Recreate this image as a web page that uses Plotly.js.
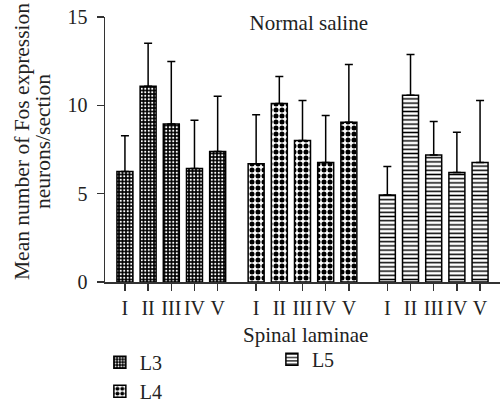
<!DOCTYPE html>
<html>
<head>
<meta charset="utf-8">
<script src="https://cdn.plot.ly/plotly-3.0.1.min.js"></script>
<style>html,body{margin:0;padding:0;background:#fff;}#chart{width:501px;height:402px;}</style>
</head>
<body>
<div id="chart"></div>
<script>
// Data
const laminae = ['I', 'II', 'III', 'IV', 'V'];
const segments = ['L3', 'L4', 'L5'];
const l3Mean = [6.26, 11.08, 8.94, 6.43, 7.39];
const l3SD = [2.02, 2.44, 3.54, 2.72, 3.12];
const l4Mean = [6.69, 10.10, 8.01, 6.77, 9.04];
const l4SD = [2.78, 1.53, 2.27, 2.66, 3.27];
const l5Mean = [4.93, 10.57, 7.19, 6.20, 6.77];
const l5SD = [1.61, 2.31, 1.90, 2.27, 3.51];
const chartTitle = 'Normal saline';
const xTitle = 'Spinal laminae';
const yTitleLines = ['Mean number of Fos expression', 'neurons/section'];

const groupStep = 5.66;
const means = [l3Mean, l4Mean, l5Mean];
const sds = [l3SD, l4SD, l5SD];
const patterns = [
  {shape: '.', bgcolor: '#000', fgcolor: '#fff', size: 3.5, solidity: 0.3},
  {shape: '.', bgcolor: '#fff', fgcolor: '#000', size: 6, solidity: 0.55},
  {shape: '-', bgcolor: '#fff', fgcolor: '#000', size: 4.2, solidity: 0.35}
];
const legendIds = ['legend', 'legend', 'legend2'];

const FONT = 'Liberation Serif, Times New Roman, serif';
const TXT = '#222';
const traces = segments.map((name, g) => ({
  type: 'bar',
  name: name,
  x: laminae.map((_, i) => g * groupStep + i),
  y: means[g],
  width: 0.69,
  legend: legendIds[g],
  marker: {
    color: '#fff',
    line: {color: '#000', width: 1.5},
    pattern: patterns[g]
  },
  error_y: {
    type: 'data', symmetric: false,
    array: sds[g], arrayminus: sds[g].map(() => 0),
    color: '#000', thickness: 1.5, width: 4
  }
}));

const tickvals = [], ticktext = [];
segments.forEach((_, g) => laminae.forEach((lab, i) => { tickvals.push(g * groupStep + i); ticktext.push(lab); }));

const W = 501, H = 402, ML = 105, MB = 120, MT = 17, MR = 1;
const pw = W - ML - MR, ph = H - MT - MB;
const px2paperX = p => (p - ML) / pw;
const px2paperY = p => (H - MB - p) / ph;

const annotations = [
  {text: xTitle, xref: 'paper', yref: 'paper', x: px2paperX(305), y: px2paperY(335), xanchor: 'center', yanchor: 'middle', showarrow: false, font: {family: FONT, size: 21, color: TXT}},
  {text: yTitleLines[0], xref: 'paper', yref: 'paper', x: px2paperX(22), y: px2paperY(142), xanchor: 'center', yanchor: 'middle', textangle: -90, showarrow: false, font: {family: FONT, size: 21.5, color: TXT}},
  {text: yTitleLines[1], xref: 'paper', yref: 'paper', x: px2paperX(43), y: px2paperY(142), xanchor: 'center', yanchor: 'middle', textangle: -90, showarrow: false, font: {family: FONT, size: 21.5, color: TXT}}
];

const layout = {
  width: W, height: H,
  margin: {l: ML, r: MR, t: MT, b: MB},
  paper_bgcolor: '#fff', plot_bgcolor: '#fff',
  font: {family: FONT, size: 20, color: TXT},
  showlegend: true,
  bargap: 0,
  title: {text: chartTitle, x: 0.516, xref: 'paper', xanchor: 'center', y: 0.943, yref: 'container', yanchor: 'middle', font: {family: FONT, size: 21, color: TXT}},
  xaxis: {
    range: [-0.86, 16.18], showgrid: false, zeroline: false, automargin: false,
    showline: true, linecolor: '#333', linewidth: 1.5,
    ticks: 'outside', ticklen: 7, tickwidth: 1.5, tickcolor: '#333',
    tickvals: tickvals, ticktext: ticktext,
    tickfont: {family: FONT, size: 20, color: TXT}
  },
  yaxis: {
    range: [0, 15], showgrid: false, zeroline: false, automargin: false,
    showline: true, linecolor: '#333', linewidth: 1.5,
    ticks: 'outside', ticklen: 7, tickwidth: 1.5, tickcolor: '#333',
    ticklabelstandoff: 5,
    tickvals: [0, 5, 10, 15],
    tickfont: {family: FONT, size: 20, color: TXT}
  },
  annotations: annotations,
  legend: {x: -0.013, xanchor: 'left', y: 0.1475, yref: 'container', yanchor: 'top', orientation: 'v', bgcolor: 'rgba(0,0,0,0)', font: {family: FONT, size: 20, color: TXT}},
  legend2: {x: 0.4225, xanchor: 'left', y: 0.155, yref: 'container', yanchor: 'top', orientation: 'v', bgcolor: 'rgba(0,0,0,0)', font: {family: FONT, size: 20, color: TXT}}
};

Plotly.newPlot('chart', traces, layout, {displayModeBar: false, staticPlot: true});
</script>
</body>
</html>
